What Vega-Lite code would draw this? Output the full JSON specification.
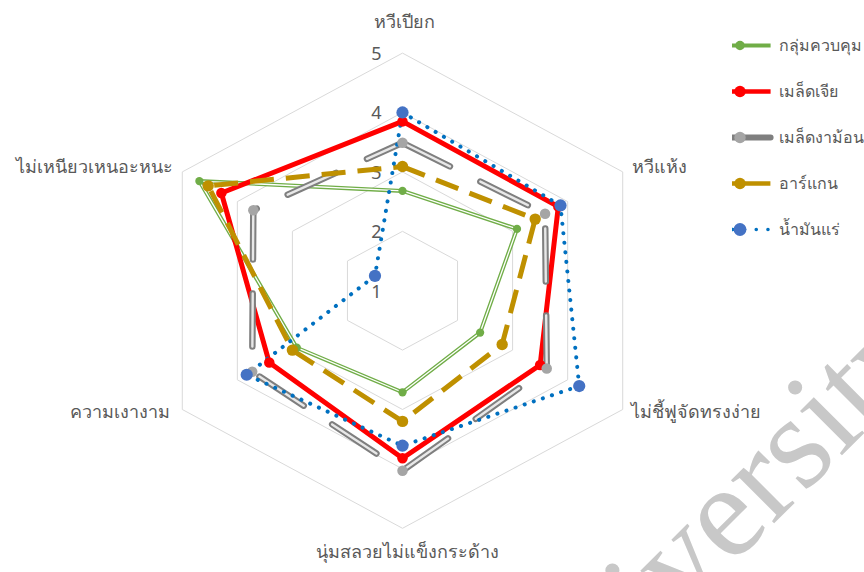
{
  "$schema": "https://vega.github.io/schema/vega-lite/v6.json",
  "width": 864,
  "height": 572,
  "padding": 0,
  "autosize": "none",
  "background": "white",
  "config": {"view": {"stroke": null}},
  "datasets": {
    "scores": [
      {"series": "กลุ่มควบคุม", "k": 0, "value": 2.68},
      {"series": "กลุ่มควบคุม", "k": 1, "value": 3.08},
      {"series": "กลุ่มควบคุม", "k": 2, "value": 2.41},
      {"series": "กลุ่มควบคุม", "k": 3, "value": 2.71},
      {"series": "กลุ่มควบคุม", "k": 4, "value": 2.92},
      {"series": "กลุ่มควบคุม", "k": 5, "value": 4.69},
      {"series": "เมล็ดเจีย", "k": 0, "value": 3.85},
      {"series": "เมล็ดเจีย", "k": 1, "value": 3.83},
      {"series": "เมล็ดเจีย", "k": 2, "value": 3.5},
      {"series": "เมล็ดเจีย", "k": 3, "value": 3.82},
      {"series": "เมล็ดเจีย", "k": 4, "value": 3.42},
      {"series": "เมล็ดเจีย", "k": 5, "value": 4.29},
      {"series": "เมล็ดงาม้อน", "k": 0, "value": 3.49},
      {"series": "เมล็ดงาม้อน", "k": 1, "value": 3.59},
      {"series": "เมล็ดงาม้อน", "k": 2, "value": 3.62},
      {"series": "เมล็ดงาม้อน", "k": 3, "value": 4.03},
      {"series": "เมล็ดงาม้อน", "k": 4, "value": 3.73},
      {"series": "เมล็ดงาม้อน", "k": 5, "value": 3.71},
      {"series": "อาร์แกน", "k": 0, "value": 3.09},
      {"series": "อาร์แกน", "k": 1, "value": 3.41},
      {"series": "อาร์แกน", "k": 2, "value": 2.81},
      {"series": "อาร์แกน", "k": 3, "value": 3.2},
      {"series": "อาร์แกน", "k": 4, "value": 3.0},
      {"series": "อาร์แกน", "k": 5, "value": 4.53},
      {"series": "น้ำมันแร่", "k": 0, "value": 4.0},
      {"series": "น้ำมันแร่", "k": 1, "value": 3.87},
      {"series": "น้ำมันแร่", "k": 2, "value": 4.21},
      {"series": "น้ำมันแร่", "k": 3, "value": 3.61},
      {"series": "น้ำมันแร่", "k": 4, "value": 3.83},
      {"series": "น้ำมันแร่", "k": 5, "value": 1.5}
    ],
    "axes": [
      {"k": 0, "name": "หวีเปียก"},
      {"k": 1, "name": "หวีแห้ง"},
      {"k": 2, "name": "ไม่ชี้ฟูจัดทรงง่าย"},
      {"k": 3, "name": "นุ่มสลวยไม่แข็งกระด้าง"},
      {"k": 4, "name": "ความเงางาม"},
      {"k": 5, "name": "ไม่เหนียวเหนอะหนะ"}
    ],
    "grid": [
      {"level": 2, "k": 0}, {"level": 2, "k": 1}, {"level": 2, "k": 2}, {"level": 2, "k": 3}, {"level": 2, "k": 4}, {"level": 2, "k": 5},
      {"level": 3, "k": 0}, {"level": 3, "k": 1}, {"level": 3, "k": 2}, {"level": 3, "k": 3}, {"level": 3, "k": 4}, {"level": 3, "k": 5},
      {"level": 4, "k": 0}, {"level": 4, "k": 1}, {"level": 4, "k": 2}, {"level": 4, "k": 3}, {"level": 4, "k": 4}, {"level": 4, "k": 5},
      {"level": 5, "k": 0}, {"level": 5, "k": 1}, {"level": 5, "k": 2}, {"level": 5, "k": 3}, {"level": 5, "k": 4}, {"level": 5, "k": 5}
    ],
    "ticks": [{"v": 1}, {"v": 2}, {"v": 3}, {"v": 4}, {"v": 5}],
    "watermark": [{"text": "University"}]
  },
  "encoding": {
    "x": {"field": "px", "type": "quantitative", "scale": {"domain": [-6.3316, 7.2597], "nice": false, "zero": false}, "axis": null},
    "y": {"field": "py", "type": "quantitative", "scale": {"domain": [-4.7357, 4.8939], "nice": false, "zero": false}, "axis": null}
  },
  "layer": [
    {
      "data": {"name": "grid"},
      "transform": [
        {"calculate": "(datum.level - 1) * sin(datum.k * PI / 3)", "as": "px"},
        {"calculate": "(datum.level - 1) * cos(datum.k * PI / 3)", "as": "py"}
      ],
      "mark": {"type": "line", "interpolate": "linear-closed", "stroke": "#d9d9d9", "strokeWidth": 1},
      "encoding": {
        "detail": {"field": "level", "type": "nominal"},
        "order": {"field": "k", "type": "quantitative"}
      }
    },
    {
      "data": {"name": "ticks"},
      "transform": [
        {"calculate": "0", "as": "px"},
        {"calculate": "datum.v - 1", "as": "py"}
      ],
      "mark": {"type": "text", "align": "center", "baseline": "middle", "dx": -26, "dy": 2, "fontSize": 18, "font": "Noto Sans", "color": "#595959"},
      "encoding": {
        "text": {"field": "v", "type": "quantitative"}
      }
    },
    {
      "data": {"name": "axes"},
      "transform": [
        {"calculate": "4 * sin(datum.k * PI / 3)", "as": "px"},
        {"calculate": "4 * cos(datum.k * PI / 3)", "as": "py"}
      ],
      "layer": [
        {
          "transform": [{"filter": "datum.k === 0"}],
          "mark": {"type": "text", "align": "center", "baseline": "alphabetic", "dx": 2, "dy": -25, "fontSize": 18, "font": "Noto Sans", "color": "#595959"},
          "encoding": {"text": {"field": "name"}}
        },
        {
          "transform": [{"filter": "datum.k === 1"}],
          "mark": {"type": "text", "align": "left", "baseline": "alphabetic", "dx": 9, "dy": 1, "fontSize": 18, "font": "Noto Sans", "color": "#595959"},
          "encoding": {"text": {"field": "name"}}
        },
        {
          "transform": [{"filter": "datum.k === 2"}],
          "mark": {"type": "text", "align": "left", "baseline": "alphabetic", "dx": 8, "dy": 9, "fontSize": 18, "font": "Noto Sans", "color": "#595959"},
          "encoding": {"text": {"field": "name"}}
        },
        {
          "transform": [{"filter": "datum.k === 3"}],
          "mark": {"type": "text", "align": "center", "baseline": "alphabetic", "dx": 5, "dy": 30, "fontSize": 18, "font": "Noto Sans", "color": "#595959"},
          "encoding": {"text": {"field": "name"}}
        },
        {
          "transform": [{"filter": "datum.k === 4"}],
          "mark": {"type": "text", "align": "right", "baseline": "alphabetic", "dx": -12, "dy": 9, "fontSize": 18, "font": "Noto Sans", "color": "#595959"},
          "encoding": {"text": {"field": "name"}}
        },
        {
          "transform": [{"filter": "datum.k === 5"}],
          "mark": {"type": "text", "align": "right", "baseline": "alphabetic", "dx": -9, "dy": 1, "fontSize": 18, "font": "Noto Sans", "color": "#595959"},
          "encoding": {"text": {"field": "name"}}
        }
      ]
    },
    {
      "data": {"name": "scores"},
      "transform": [
        {"calculate": "(datum.value - 1) * sin(datum.k * PI / 3)", "as": "px"},
        {"calculate": "(datum.value - 1) * cos(datum.k * PI / 3)", "as": "py"},
        {"calculate": "datum.series", "as": "series2"}
      ],
      "layer": [
        {
          "transform": [{"filter": "datum.series === 'กลุ่มควบคุม'"}],
          "mark": {"type": "line", "interpolate": "linear-closed", "strokeWidth": 4, "strokeJoin": "round"},
          "encoding": {
            "order": {"field": "k", "type": "quantitative"},
            "color": {
              "field": "series",
              "type": "nominal",
              "scale": {
                "domain": ["กลุ่มควบคุม", "เมล็ดเจีย", "เมล็ดงาม้อน", "อาร์แกน", "น้ำมันแร่"],
                "range": ["#70ad47", "#ff0000", "#7f7f7f", "#bf9000", "#0070c0"]
              },
              "legend": {
                "orient": "none",
                "legendX": 732,
                "legendY": 30.5,
                "title": null,
                "padding": 0,
                "direction": "vertical",
                "clipHeight": 30,
                "symbolType": "M-10.2,0L10.2,0",
                "symbolSize": 36,
                "symbolOffset": 0,
                "symbolStrokeWidth": 4,
                "labelFont": "Noto Sans",
                "labelFontSize": 16,
                "labelColor": "#595959",
                "labelOffset": 31,
                "labelLimit": 300,
                "rowPadding": 16,
                "encode": {
                  "symbols": {
                    "update": {
                      "opacity": {"value": 1},
                      "fill": {"value": "transparent"},
                      "strokeWidth": {"signal": "datum.value === 'เมล็ดงาม้อน' ? 6 : datum.value === 'น้ำมันแร่' ? 3.5 : datum.value === 'กลุ่มควบคุม' ? 4 : 4.5"},
                      "strokeDash": {"signal": "datum.value === 'อาร์แกน' ? [26.5, 8] : datum.value === 'น้ำมันแร่' ? [0.1, 11.6] : [1, 0]"},
                      "strokeCap": {"signal": "datum.value === 'เมล็ดงาม้อน' || datum.value === 'น้ำมันแร่' ? 'round' : 'butt'"}
                    }
                  }
                }
              }
            }
          }
        },
        {
          "transform": [{"filter": "datum.series === 'กลุ่มควบคุม'"}],
          "mark": {"type": "line", "interpolate": "linear-closed", "stroke": "#ffffff", "strokeWidth": 1.3, "strokeJoin": "round"},
          "encoding": {"order": {"field": "k", "type": "quantitative"}}
        },
        {
          "transform": [{"filter": "datum.series === 'เมล็ดเจีย'"}],
          "mark": {"type": "line", "interpolate": "linear-closed", "stroke": "#ff0000", "strokeWidth": 5, "strokeJoin": "round"},
          "encoding": {"order": {"field": "k", "type": "quantitative"}}
        },
        {
          "transform": [{"filter": "datum.series === 'เมล็ดงาม้อน'"}],
          "mark": {"type": "line", "interpolate": "linear-closed", "stroke": "#7f7f7f", "strokeWidth": 6.5, "strokeDash": [53, 34], "strokeCap": "round", "strokeJoin": "round"},
          "encoding": {"order": {"field": "k", "type": "quantitative"}}
        },
        {
          "transform": [{"filter": "datum.series === 'เมล็ดงาม้อน'"}],
          "mark": {"type": "line", "interpolate": "linear-closed", "stroke": "#e8e8e8", "strokeWidth": 2.4, "strokeDash": [53, 34], "strokeCap": "round", "strokeJoin": "round"},
          "encoding": {"order": {"field": "k", "type": "quantitative"}}
        },
        {
          "transform": [{"filter": "datum.series === 'อาร์แกน'"}],
          "mark": {"type": "line", "interpolate": "linear-closed", "stroke": "#bf9000", "strokeWidth": 5, "strokeDash": [24, 12], "strokeJoin": "round"},
          "encoding": {"order": {"field": "k", "type": "quantitative"}}
        },
        {
          "transform": [{"filter": "datum.series === 'น้ำมันแร่'"}],
          "mark": {"type": "line", "interpolate": "linear-closed", "stroke": "#0070c0", "strokeWidth": 4, "strokeDash": [0.1, 9.5], "strokeCap": "round", "strokeJoin": "round"},
          "encoding": {"order": {"field": "k", "type": "quantitative"}}
        },
        {
          "mark": {"type": "point", "shape": "circle", "filled": true, "opacity": 1, "strokeWidth": 0},
          "encoding": {
            "fill": {
              "field": "series2",
              "type": "nominal",
              "sort": null,
              "scale": {"range": ["#70ad47", "#ff0000", "#a5a5a5", "#bf9000", "#4472c4"]},
              "legend": {
                "orient": "none",
                "legendX": 732,
                "legendY": 30.5,
                "title": null,
                "padding": 0,
                "direction": "vertical",
                "clipHeight": 30,
                "symbolType": "circle",
                "symbolSize": 36,
                "symbolOffset": 0,
                "symbolStrokeWidth": 0,
                "symbolOpacity": 1,
                "labelFont": "Noto Sans",
                "labelFontSize": 16,
                "labelOpacity": 0,
                "labelOffset": 31,
                "labelLimit": 300,
                "rowPadding": 16,
                "encode": {
                  "symbols": {
                    "update": {
                      "opacity": {"value": 1},
                      "fillOpacity": {"value": 1},
                      "strokeWidth": {"value": 0},
                      "shape": {"value": "circle"},
                      "fill": {"signal": "datum.value === 'กลุ่มควบคุม' ? '#70ad47' : datum.value === 'เมล็ดเจีย' ? '#ff0000' : datum.value === 'เมล็ดงาม้อน' ? '#a5a5a5' : datum.value === 'อาร์แกน' ? '#bf9000' : '#4472c4'"},
                      "size": {"signal": "datum.value === 'กลุ่มควบคุม' ? 90 : datum.value === 'น้ำมันแร่' ? 165 : 130"}
                    }
                  }
                }
              }
            },
            "size": {
              "field": "series",
              "type": "nominal",
              "sort": null,
              "scale": {"type": "ordinal", "range": [68, 110, 110, 130, 150]},
              "legend": null
            }
          }
        }
      ]
    },
    {
      "data": {"name": "watermark"},
      "transform": [
        {"calculate": "2.2", "as": "px"},
        {"calculate": "-7.818", "as": "py"}
      ],
      "mark": {"type": "text", "align": "left", "baseline": "alphabetic", "angle": 315, "fontSize": 133, "font": "Liberation Serif", "color": "#c8c8c8"},
      "encoding": {
        "text": {"field": "text"}
      }
    }
  ]
}
